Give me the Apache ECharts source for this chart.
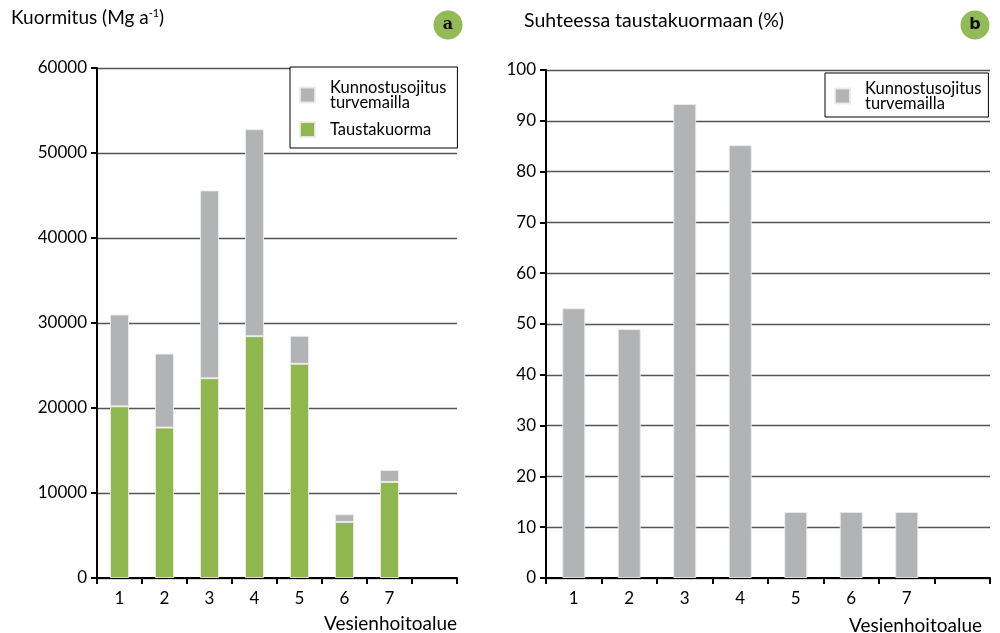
<!DOCTYPE html>
<html>
<head>
<meta charset="utf-8">
<script src="https://cdn.jsdelivr.net/npm/echarts@6/dist/echarts.min.js"></script>
<style>
  html, body { margin: 0; padding: 0; background: #fff; }
  #chart { width: 1000px; height: 633px; }
</style>
</head>
<body>
<div id="chart"></div>
<script>
// Water management areas (the last slot is an empty band)
const regions = ['1', '2', '3', '4', '5', '6', '7', ''];

// Panel a: loads in Mg per year
const backgroundLoad = [20200, 17700, 23500, 28450, 25200, 6600, 11300];
const ditchingLoad = [10800, 8700, 22100, 24350, 3300, 900, 1400];
const loadTicks = [0, 10000, 20000, 30000, 40000, 50000, 60000];

// Panel b: ditching load relative to background load (%)
const relativeLoad = [53.1, 49.0, 93.3, 85.2, 13.0, 13.0, 13.0];
const percentTicks = [0, 10, 20, 30, 40, 50, 60, 70, 80, 90, 100];

const ditchName = 'Kunnostusojitus\nturvemailla';
const bgName = 'Taustakuorma';
const FONT = 'Lato, "Open Sans", sans-serif';
const TEXT = '#000';
const GREY = '#b2b3b5';
const GREEN = '#8fb74e';

const chart = echarts.init(document.getElementById('chart'), null, { renderer: 'canvas' });

function catAxis(gridIndex) {
  return {
    type: 'category',
    gridIndex,
    data: regions,
    boundaryGap: true,
    axisLine: { lineStyle: { color: '#000', width: 2 } },
    axisTick: { show: true, alignWithLabel: false, length: 6, lineStyle: { color: '#000', width: 2 } },
    axisLabel: { color: TEXT, fontSize: 17, fontFamily: FONT, margin: 12 },
    splitLine: { show: false }
  };
}

function valAxis(gridIndex, ticks) {
  return {
    type: 'value',
    gridIndex,
    min: ticks[0],
    max: ticks[ticks.length - 1],
    interval: ticks[1] - ticks[0],
    axisLine: { show: true, lineStyle: { color: '#000', width: 2 } },
    axisTick: { show: true, length: 6, lineStyle: { color: '#000', width: 2 } },
    axisLabel: { color: TEXT, fontSize: 17, fontFamily: FONT, margin: 10, formatter: v => String(v) },
    splitLine: { show: true, lineStyle: { color: '#555', width: 1.3 } }
  };
}

const barEdge = { borderColor: 'rgba(235,235,235,0.9)', borderWidth: 1 };
const legendText = { color: TEXT, fontSize: 16.5, fontFamily: FONT, lineHeight: 15, padding: [0, 0, 0, 10] };

chart.setOption({
  animation: false,
  backgroundColor: '#fff',
  grid: [
    { left: 97, right: 543, top: 68, bottom: 55, containLabel: false },
    { left: 546, right: 10, top: 70, bottom: 55, containLabel: false }
  ],
  xAxis: [catAxis(0), catAxis(1)],
  yAxis: [valAxis(0, loadTicks), valAxis(1, percentTicks)],
  legend: [
    {
      left: 290, top: 67,
      orient: 'vertical',
      data: [ditchName, bgName],
      icon: 'rect', itemWidth: 15, itemHeight: 15, itemGap: 10,
      padding: [12, 11, 10, 9],
      borderColor: '#000', borderWidth: 1,
      backgroundColor: '#fff',
      textStyle: legendText,
      selectedMode: false
    },
    {
      left: 825, top: 73,
      orient: 'vertical',
      data: [ditchName],
      icon: 'rect', itemWidth: 15, itemHeight: 15,
      padding: [7, 7, 5, 9],
      borderColor: '#000', borderWidth: 1,
      backgroundColor: '#fff',
      textStyle: legendText,
      selectedMode: false
    }
  ],
  series: [
    {
      name: bgName, type: 'bar', stack: 'load', xAxisIndex: 0, yAxisIndex: 0,
      data: backgroundLoad, barWidth: 19,
      itemStyle: Object.assign({ color: GREEN }, barEdge)
    },
    {
      name: ditchName, type: 'bar', stack: 'load', xAxisIndex: 0, yAxisIndex: 0,
      data: ditchingLoad, barWidth: 19,
      itemStyle: Object.assign({ color: GREY }, barEdge)
    },
    {
      name: ditchName, type: 'bar', xAxisIndex: 1, yAxisIndex: 1,
      data: relativeLoad, barWidth: 23,
      itemStyle: Object.assign({ color: GREY }, barEdge)
    }
  ],
  graphic: [
    {
      type: 'text', left: 11, top: 8,
      style: {
        text: '{n|Kuormitus (Mg a}{s|-1}{n|)}',
        rich: {
          n: { fontSize: 19, fontFamily: FONT, fill: TEXT },
          s: { fontSize: 11, fontFamily: FONT, fill: TEXT, verticalAlign: 'top', padding: [0, 0, 9, 0] }
        }
      }
    },
    {
      type: 'text', left: 524, top: 11,
      style: { text: 'Suhteessa taustakuormaan (%)', fontSize: 19.5, fontFamily: FONT, fill: TEXT }
    },
    { type: 'circle', shape: { cx: 448, cy: 25, r: 14.5 }, style: { fill: '#92bb57' } },
    {
      type: 'text', x: 448, y: 25,
      style: { text: 'a', fontSize: 16, fontWeight: 'bold', fontFamily: '"DejaVu Serif", serif', fill: '#111', align: 'center', verticalAlign: 'middle' }
    },
    { type: 'circle', shape: { cx: 975, cy: 25, r: 14.5 }, style: { fill: '#92bb57' } },
    {
      type: 'text', x: 975, y: 25,
      style: { text: 'b', fontSize: 16, fontWeight: 'bold', fontFamily: '"DejaVu Sans", sans-serif', fill: '#111', align: 'center', verticalAlign: 'middle' }
    },
    {
      type: 'text', x: 457, y: 624,
      style: { text: 'Vesienhoitoalue', fontSize: 19, fontFamily: FONT, fill: TEXT, align: 'right', verticalAlign: 'middle' }
    },
    {
      type: 'text', x: 982, y: 626,
      style: { text: 'Vesienhoitoalue', fontSize: 19, fontFamily: FONT, fill: TEXT, align: 'right', verticalAlign: 'middle' }
    }
  ]
});
</script>
</body>
</html>
